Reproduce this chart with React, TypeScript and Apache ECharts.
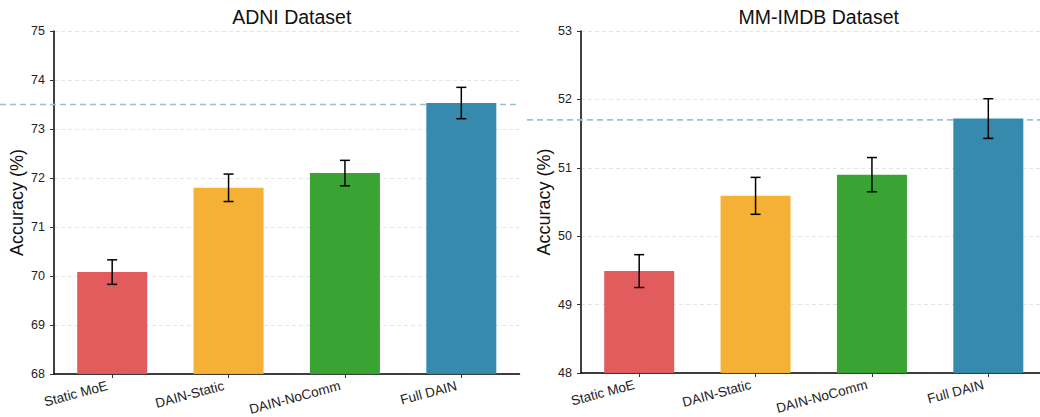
import React, { useEffect, useRef } from "react";
import * as echarts from "echarts";

const CATEGORIES = ["Static MoE", "DAIN-Static", "DAIN-NoComm", "Full DAIN"];
const COLORS = ["#E15759", "#F5AE30", "#33A02C", "#2E86AB"];

const ADNI_MEAN = [70.08, 71.8, 72.1, 73.53];
const ADNI_ERR = [0.25, 0.28, 0.26, 0.32];
const ADNI_REF = 73.5;
const ADNI_TICKS = { min: 68, max: 75, interval: 1 };

const MMIMDB_MEAN = [49.49, 50.59, 50.9, 51.72];
const MMIMDB_ERR = [0.24, 0.27, 0.25, 0.29];
const MMIMDB_REF = 51.7;
const MMIMDB_TICKS = { min: 48, max: 53, interval: 1 };

const TITLES = ["ADNI Dataset", "MM-IMDB Dataset"];
const Y_NAME = "Accuracy (%)";

const FONT = "'Liberation Sans', Arial, Helvetica, sans-serif";

const GRIDS = [
  { left: 54, top: 31, width: 465.5, height: 343 },
  { left: 581, top: 31, width: 465.5, height: 342 },
];

function errRender(params: any, api: any) {
  const x = api.value(0);
  const m = api.value(1);
  const e = api.value(2);
  const top = api.coord([x, m + e]);
  const bot = api.coord([x, m - e]);
  const hw = 5;
  const st = { stroke: "#000", lineWidth: 1.5 };
  return {
    type: "group",
    children: [
      { type: "line", shape: { x1: top[0], y1: top[1], x2: bot[0], y2: bot[1] }, style: st },
      { type: "line", shape: { x1: top[0] - hw, y1: top[1], x2: top[0] + hw, y2: top[1] }, style: st },
      { type: "line", shape: { x1: bot[0] - hw, y1: bot[1], x2: bot[0] + hw, y2: bot[1] }, style: st },
    ],
  };
}

export default function App() {
  const ref = useRef<HTMLDivElement>(null);
  useEffect(() => {
    if (!ref.current) return;
    const chart = echarts.init(ref.current, null, { renderer: "svg" });
    const ticks = [ADNI_TICKS, MMIMDB_TICKS];
    const means = [ADNI_MEAN, MMIMDB_MEAN];
    const errs = [ADNI_ERR, MMIMDB_ERR];
    const refs = [ADNI_REF, MMIMDB_REF];

    const option: any = {
      animation: false,
      textStyle: { fontFamily: FONT },
      title: TITLES.map((t, i) => ({
        text: t,
        left: GRIDS[i].left + GRIDS[i].width / 2,
        textAlign: "center",
        top: 2,
        textStyle: { fontFamily: FONT, fontSize: 19.5, fontWeight: "normal", color: "#111" },
      })),
      grid: GRIDS.map((g) => ({ ...g, containLabel: false, outerBoundsMode: "none" })),
      xAxis: GRIDS.map((_, i) => ({
        type: "category",
        gridIndex: i,
        data: CATEGORIES,
        boundaryGap: true,
        axisLine: { show: true, lineStyle: { color: "#000", width: 1.5 } },
        axisTick: { show: true, alignWithLabel: true, length: 4, lineStyle: { color: "#333", width: 1 } },
        axisLabel: {
          rotate: 15,
          margin: 10,
          padding: [0, 5, 0, 0],
          fontSize: 13.5,
          color: "#222",
          fontFamily: FONT,
          interval: 0,
        },
        splitLine: { show: false },
      })),
      yAxis: GRIDS.map((_, i) => ({
        type: "value",
        gridIndex: i,
        min: ticks[i].min,
        max: ticks[i].max,
        interval: ticks[i].interval,
        name: Y_NAME,
        nameLocation: "middle",
        nameGap: 28,
        nameTextStyle: { fontSize: 18, color: "#111", fontFamily: FONT },
        axisLine: { show: true, lineStyle: { color: "#000", width: 1.5 } },
        axisTick: { show: true, length: 4, lineStyle: { color: "#333", width: 1 } },
        axisLabel: { margin: 9, fontSize: 12.5, color: "#222", fontFamily: FONT },
        splitLine: { show: true, lineStyle: { color: "#dedede", width: 0.8, type: [4, 3] } },
      })),
      series: [
        ...GRIDS.map((_, i) => ({
          type: "bar",
          xAxisIndex: i,
          yAxisIndex: i,
          barWidth: 70,
          data: means[i].map((v, j) => ({ value: v, itemStyle: { color: COLORS[j], opacity: 0.97 } })),
          z: 2,
        })),
        ...GRIDS.map((_, i) => ({
          type: "custom",
          xAxisIndex: i,
          yAxisIndex: i,
          renderItem: errRender,
          encode: { x: 0, y: 1 },
          data: means[i].map((v, j) => [j, v, errs[i][j]]),
          z: 5,
        })),
      ],
    };
    chart.setOption(option);

    const graphics = GRIDS.map((g, i) => {
      const y = chart.convertToPixel({ yAxisIndex: i } as any, refs[i]) as unknown as number;
      return {
        type: "line",
        z: 1,
        shape: { x1: g.left - 54, y1: y, x2: g.left + g.width, y2: y },
        style: { stroke: "#96C4D6", lineWidth: 1.6, lineDash: [6, 4] },
      };
    });
    chart.setOption({ graphic: graphics });

    return () => chart.dispose();
  }, []);
  return (
    <div
      ref={ref}
      style={{ position: "absolute", left: 0, top: 0, width: 1040, height: 417 }}
    />
  );
}
